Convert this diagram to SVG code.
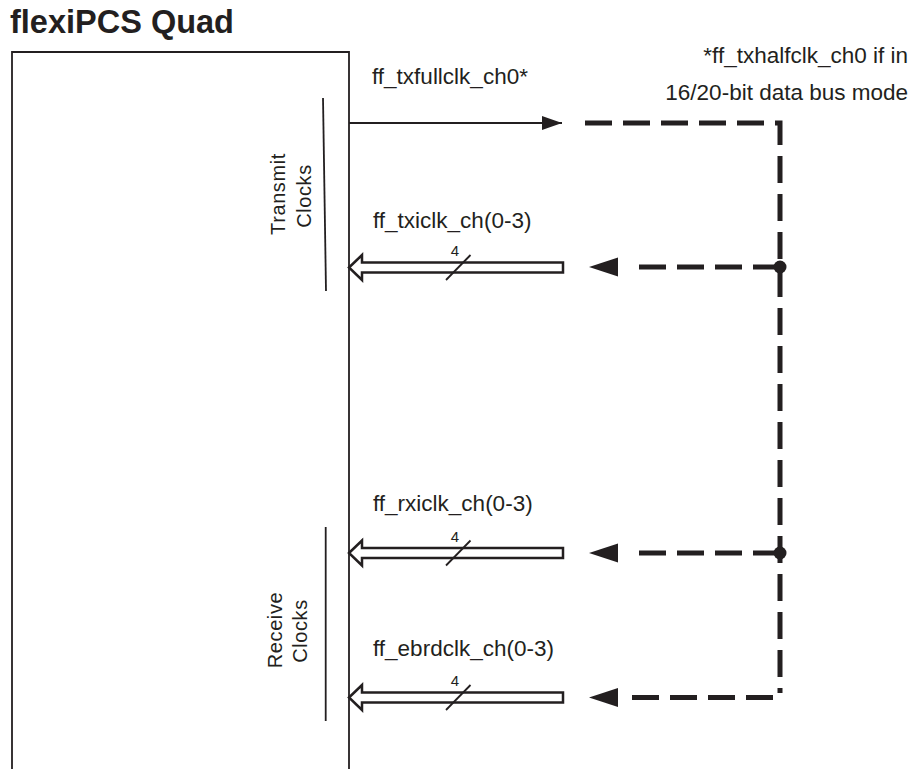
<svg xmlns="http://www.w3.org/2000/svg" width="920" height="769" viewBox="0 0 920 769">
<style>
text{font-family:"Liberation Sans",Arial,sans-serif;fill:#231f20}
.t{font-size:22.5px}
.s{font-size:20px;letter-spacing:0.6px}
.n{font-size:15px}
.ln{stroke:#231f20;stroke-width:1.8;fill:none}
.bus{stroke:#231f20;stroke-width:2.5;fill:#fff;stroke-linejoin:miter}
.dash{stroke:#231f20;stroke-width:5;fill:none;stroke-dasharray:27 11}
.ah{fill:#231f20}
</style>
<defs>
<marker id="arr" markerWidth="22" markerHeight="16" refX="20" refY="7" orient="auto" markerUnits="userSpaceOnUse">
<path d="M0,0 L20,7 L0,14 Z" fill="#231f20"/>
</marker>
</defs>
<text x="10" y="33" style="font-size:32.5px;font-weight:bold">flexiPCS Quad</text>
<g id="quad">
<path class="ln" d="M12,775 V52 H349 V775"/>
</g>
<g id="tx-group">
<line class="ln" x1="323" y1="98" x2="326" y2="291" stroke-width="2"/>
<text class="s" text-anchor="middle" transform="translate(285,194) rotate(-90)">Transmit</text>
<text class="s" text-anchor="middle" transform="translate(311,196) rotate(-90)">Clocks</text>
</g>
<g id="rx-group">
<line class="ln" x1="325.7" y1="527" x2="325.7" y2="721" stroke-width="2"/>
<text class="s" text-anchor="middle" transform="translate(282,630) rotate(-90)">Receive</text>
<text class="s" text-anchor="middle" transform="translate(307,631) rotate(-90)">Clocks</text>
</g>
<g id="labels">
<text class="t" x="372" y="84">ff_txfullclk_ch0*</text>
<text class="t" x="908" y="63" text-anchor="end">*ff_txhalfclk_ch0 if in</text>
<text class="t" x="908" y="100" text-anchor="end">16/20-bit data bus mode</text>
<text class="t" x="373" y="228">ff_txiclk_ch(0-3)</text>
<text class="t" x="373" y="511">ff_rxiclk_ch(0-3)</text>
<text class="t" x="373" y="656">ff_ebrdclk_ch(0-3)</text>
</g>
<g id="connectors">
<line class="ln" x1="349" y1="123" x2="562" y2="123" marker-end="url(#arr)"/>
<path class="dash" d="M585,123 H780 V693"/>
<path class="dash" d="M773,697.5 H630"/>
<path class="dash" d="M780,267 H630"/>
<path class="dash" d="M780,553 H630"/>
<circle cx="780" cy="267" r="6.5" class="ah"/>
<circle cx="780" cy="553" r="6.5" class="ah"/>
<path class="ah" d="M589,267 L618,257.5 L618,276.5 Z"/>
<path class="ah" d="M589,553 L618,543.5 L618,562.5 Z"/>
<path class="ah" d="M589,697.5 L618,688 L618,707 Z"/>
<g id="bus-tx">
<path class="bus" d="M349,267.5 L362,255 L362,262.5 L563,262.5 L563,272.5 L362,272.5 L362,280 Z"/>
<line class="ln" x1="446" y1="280" x2="470.5" y2="255"/>
<text class="n" x="455" y="256" text-anchor="middle">4</text>
</g>
<g id="bus-rx">
<path class="bus" d="M349,553 L362,540.5 L362,548 L563,548 L563,558 L362,558 L362,565.5 Z"/>
<line class="ln" x1="446" y1="565.5" x2="470.5" y2="540.5"/>
<text class="n" x="455" y="541.5" text-anchor="middle">4</text>
</g>
<g id="bus-ebrd">
<path class="bus" d="M349,697.5 L362,685 L362,692.5 L563,692.5 L563,702.5 L362,702.5 L362,710 Z"/>
<line class="ln" x1="446" y1="710" x2="470.5" y2="685"/>
<text class="n" x="455" y="686" text-anchor="middle">4</text>
</g>
</g>
</svg>
